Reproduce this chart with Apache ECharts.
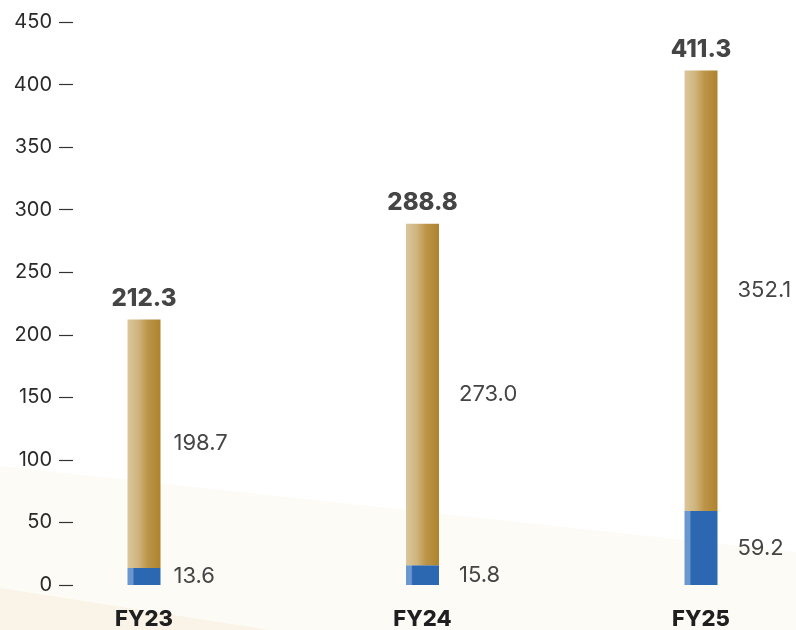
<!DOCTYPE html>
<html>
<head>
<meta charset="utf-8">
<script src="https://cdn.jsdelivr.net/npm/echarts@6/dist/echarts.min.js"></script>
<style>
  html, body { margin: 0; padding: 0; background: #fff; }
  #chart { width: 796px; height: 630px; }
</style>
</head>
<body>
<div id="chart"></div>
<script>
// fiscal years
var years = ['FY23', 'FY24', 'FY25'];
// lower (blue) segment
var blueVals = [13.6, 15.8, 59.2];
// upper (gold) segment
var goldVals = [198.7, 273.0, 352.1];
// totals printed above the bars
var totals = [212.3, 288.8, 411.3];
// y ticks
var yMin = 0, yMax = 450, yStep = 50;

var numFont = 'Inter, Roboto, sans-serif';
var labelDist = [13, 20, 20];   // FY23 label sits closer to its bar

var goldFill = new echarts.graphic.LinearGradient(0, 0, 1, 0, [
  { offset: 0, color: '#dbc79d' },
  { offset: 0.35, color: '#ceb27a' },
  { offset: 0.6, color: '#bd9548' },
  { offset: 1, color: '#ad832d' }
]);
var blueFill = new echarts.graphic.LinearGradient(0, 0, 1, 0, [
  { offset: 0, color: '#6a97cd' },
  { offset: 0.16, color: '#6a97cd' },
  { offset: 0.2, color: '#2c67b2' },
  { offset: 1, color: '#2c67b2' }
]);

function segData(vals) {
  return vals.map(function (v, i) {
    return { value: v, label: { distance: labelDist[i] } };
  });
}

var chart = echarts.init(document.getElementById('chart'));
chart.setOption({
  backgroundColor: '#ffffff',
  animation: false,
  graphic: [
    {
      type: 'polygon', z: -10, silent: true,
      shape: { points: [[0, 466], [796, 552], [796, 630], [0, 630]] },
      style: { fill: '#fdfbf6' }
    },
    {
      type: 'polygon', z: -9, silent: true,
      shape: { points: [[0, 588], [270, 630], [0, 630]] },
      style: { fill: '#f9f4e7' }
    }
  ],
  grid: { left: 144, right: 95, top: 22, bottom: 44 },
  xAxis: {
    type: 'category',
    data: years,
    boundaryGap: false,
    axisLine: { show: false },
    axisTick: { show: false },
    axisLabel: {
      margin: 23,
      fontFamily: numFont,
      fontWeight: 800,
      fontSize: 22,
      color: '#1f1f1f'
    }
  },
  yAxis: {
    type: 'value',
    min: yMin, max: yMax, interval: yStep,
    offset: 71,
    axisLine: { show: false },
    splitLine: { show: false },
    axisTick: { show: true, length: 14, inside: false, lineStyle: { color: '#333', width: 1.2 } },
    axisLabel: {
      margin: 21,
      fontFamily: numFont,
      fontSize: 20,
      color: '#2a2a2a'
    }
  },
  series: [
    {
      name: 'blue', type: 'bar', stack: 'a', clip: false,
      barWidth: 33,
      data: segData(blueVals),
      itemStyle: { color: blueFill },
      label: {
        show: true, position: 'right',
        fontFamily: numFont, fontSize: 22, color: '#454545',
        formatter: function (p) { return p.value.toFixed(1); }
      }
    },
    {
      name: 'gold', type: 'bar', stack: 'a', clip: false,
      barWidth: 33,
      data: segData(goldVals),
      itemStyle: { color: goldFill },
      label: {
        show: true, position: 'right',
        fontFamily: numFont, fontSize: 22, color: '#454545',
        formatter: function (p) { return p.value.toFixed(1); }
      }
    },
    {
      name: 'total', type: 'bar', stack: 'a', clip: false,
      barWidth: 33,
      data: totals.map(function () { return 0; }),
      itemStyle: { color: 'transparent' },
      label: {
        show: true, position: 'top', distance: 9,
        fontFamily: numFont, fontWeight: 800, fontSize: 24, color: '#454545',
        formatter: function (p) { return totals[p.dataIndex].toFixed(1); }
      }
    }
  ]
});
</script>
</body>
</html>
